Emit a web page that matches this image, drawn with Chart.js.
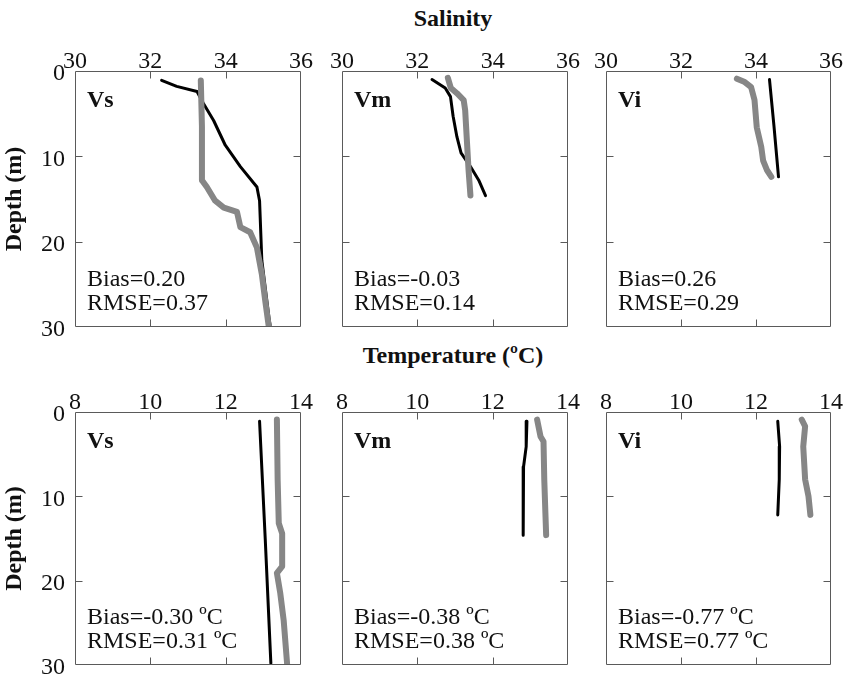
<!DOCTYPE html>
<html>
<head>
<meta charset="utf-8">
<script src="https://cdn.jsdelivr.net/npm/chart.js@4.4.0/dist/chart.umd.min.js"></script>
<style>
  body { margin: 0; background: #fff; }
  #wrap { position: relative; width: 848px; height: 678px; font-family: "Liberation Serif", "Times New Roman", serif; }
  #wrap canvas { position: absolute; left: 0; top: 0; }
  .rowTitle { position: absolute; left: 253px; width: 400px; text-align: center; font-weight: bold; font-size: 24px; line-height: 28px; color: #111; }
</style>
</head>
<body>
<div id="wrap">
  <div class="rowTitle" style="top:4px">Salinity</div>
  <div class="rowTitle" style="top:341px">Temperature (ºC)</div>
</div>
<script>
// stations and stats
const stations = ["Vs", "Vm", "Vi"];
const salBias = ["0.20", "-0.03", "0.26"];
const salRmse = ["0.37", "0.14", "0.29"];
const tempBias = ["-0.30", "-0.38", "-0.77"];
const tempRmse = ["0.31", "0.38", "0.77"];

const salTicks = [30, 32, 34, 36];
const tempTicks = [8, 10, 12, 14];
const depthTicks = [0, 10, 20, 30];

// salinity profiles (model = black, obs = gray)
const salVsModelDepth = [1.1, 1.8, 2.4, 3.8, 5.8, 8.7, 11.2, 13.6, 15.2, 22.2, 25.4, 28.9, 29.8];
const salVsModel = [32.30, 32.70, 33.24, 33.41, 33.68, 33.99, 34.39, 34.83, 34.90, 34.96, 35.05, 35.15, 35.18];
const salVsObsDepth = [1.1, 6.5, 12.8, 13.6, 15.2, 16.0, 16.5, 18.3, 18.9, 20.7, 23.8, 26.9, 29.8];
const salVsObs = [33.34, 33.37, 33.37, 33.50, 33.72, 33.95, 34.30, 34.39, 34.65, 34.83, 34.96, 35.05, 35.14];

const salVmModelDepth = [1.0, 2.0, 3.0, 5.3, 7.7, 9.6, 11.2, 12.8, 14.6];
const salVmModel = [32.39, 32.74, 32.88, 32.95, 33.05, 33.16, 33.41, 33.63, 33.81];
const salVmObsDepth = [0.8, 2.0, 2.6, 3.4, 4.6, 8.5, 11.6, 14.6];
const salVmObs = [32.81, 32.89, 33.05, 33.23, 33.27, 33.32, 33.36, 33.41];

const salViModelDepth = [1.0, 6.5, 12.4];
const salViModel = [34.36, 34.48, 34.60];
const salViObsDepth = [0.9, 1.3, 1.9, 3.4, 6.6, 8.9, 10.5, 11.6, 12.4];
const salViObs = [33.49, 33.70, 33.87, 33.96, 34.02, 34.14, 34.19, 34.29, 34.41];

// temperature profiles
const tempVsModelDepth = [1.1, 15.0, 29.8];
const tempVsModel = [12.90, 13.05, 13.20];
const tempVsObsDepth = [0.9, 8.0, 13.2, 14.4, 18.3, 19.1, 21.5, 24.7, 29.8];
const tempVsObs = [13.36, 13.38, 13.41, 13.50, 13.50, 13.36, 13.45, 13.54, 13.63];

const tempVmModelDepth = [1.1, 4.1, 6.5, 10.0, 14.6];
const tempVmModel = [12.91, 12.89, 12.82, 12.81, 12.81];
const tempVmObsDepth = [0.9, 2.9, 3.5, 8.0, 12.0, 14.6];
const tempVmObs = [13.18, 13.27, 13.35, 13.37, 13.40, 13.42];

const tempViModelDepth = [1.1, 4.1, 8.0, 12.2];
const tempViModel = [12.58, 12.63, 12.62, 12.58];
const tempViObsDepth = [0.9, 1.7, 4.1, 8.0, 10.0, 12.2];
const tempViObs = [13.22, 13.31, 13.26, 13.31, 13.40, 13.45];

const colLeft = [75, 342, 606];
const colRight = [301, 568, 831];
const rowTop = [71, 412];
const rowBottom = [327, 665];

const FONT = "'Liberation Serif', 'Times New Roman', serif";
const W = 848, H = 678;

function pts(xs, ds) {
  return xs.map((v, i) => ({ x: v, y: ds[i] }));
}

const panelDecor = {
  id: "panelDecor",
  afterDraw(chart, args, o) {
    const { ctx, chartArea: a } = chart;
    const x = chart.scales.x, y = chart.scales.y;
    const L = Math.round(a.left) + 0.5, R = Math.round(a.right) - 0.5;
    const T = Math.round(a.top) + 0.5, B = Math.round(a.bottom) - 0.5;
    ctx.save();
    ctx.strokeStyle = "#5a5a5a";
    ctx.lineWidth = 1;
    ctx.beginPath();
    ctx.rect(L, T, R - L, B - T);
    // inward ticks on all sides
    x.ticks.forEach(t => {
      const px = Math.round(x.getPixelForValue(t.value)) + 0.5;
      if (px <= L + 1 || px >= R - 1) return;
      ctx.moveTo(px, T); ctx.lineTo(px, T + 7);
      ctx.moveTo(px, B); ctx.lineTo(px, B - 7);
    });
    y.ticks.forEach(t => {
      const py = Math.round(y.getPixelForValue(t.value)) + 0.5;
      if (py <= T + 1 || py >= B - 1) return;
      ctx.moveTo(L, py); ctx.lineTo(L + 7, py);
      ctx.moveTo(R, py); ctx.lineTo(R - 7, py);
    });
    ctx.stroke();

    ctx.fillStyle = "#111";
    ctx.textBaseline = "alphabetic";
    ctx.textAlign = "left";
    ctx.font = "bold 24px " + FONT;
    ctx.fillText(o.name, a.left + 12, a.top + 36);
    ctx.font = "24px " + FONT;
    ctx.fillText(o.bias, a.left + 12, a.bottom - 41);
    ctx.fillText(o.rmse, a.left + 12, a.bottom - 17);
    ctx.restore();
  }
};

function makePanel(row, col, modelX, modelD, obsX, obsD, xTicks, bias, rmse) {
  const canvas = document.createElement("canvas");
  canvas.width = W;
  canvas.height = H;
  document.getElementById("wrap").appendChild(canvas);

  const yW = col === 0 ? 75 : 10;
  const xH = 40;
  const pad = {
    left: colLeft[col] - yW,
    top: rowTop[row] - xH,
    right: W - colRight[col],
    bottom: H - rowBottom[row]
  };

  return new Chart(canvas.getContext("2d"), {
    type: "scatter",
    data: {
      datasets: [
        {
          label: "Obs",
          data: pts(obsX, obsD),
          showLine: true,
          borderColor: "#868686",
          borderWidth: 6,
          borderCapStyle: "round",
          borderJoinStyle: "round",
          pointRadius: 0,
          tension: 0,
          order: 0
        },
        {
          label: "Model",
          data: pts(modelX, modelD),
          showLine: true,
          borderColor: "#000",
          borderWidth: 3,
          borderCapStyle: "round",
          borderJoinStyle: "round",
          pointRadius: 0,
          tension: 0,
          order: 1
        }
      ]
    },
    options: {
      responsive: false,
      animation: false,
      devicePixelRatio: 1,
      layout: { padding: pad },
      plugins: {
        legend: { display: false },
        tooltip: { enabled: false },
        panelDecor: {
          name: stations[col],
          bias: "Bias=" + bias,
          rmse: "RMSE=" + rmse
        }
      },
      scales: {
        x: {
          type: "linear",
          position: "top",
          min: xTicks[0],
          max: xTicks[xTicks.length - 1],
          afterBuildTicks: s => { s.ticks = xTicks.map(v => ({ value: v })); },
          afterFit: s => { s.height = xH; s.paddingLeft = 0; s.paddingRight = 0; },
          grid: { display: false, drawTicks: false },
          border: { display: false },
          ticks: {
            color: "#111",
            padding: -5,
            maxRotation: 0,
            font: { family: FONT, size: 24 }
          }
        },
        y: {
          type: "linear",
          reverse: true,
          min: 0,
          max: 30,
          afterBuildTicks: s => { s.ticks = depthTicks.map(v => ({ value: v })); },
          afterFit: s => { s.width = yW; s.paddingTop = 0; s.paddingBottom = 0; },
          grid: { display: false, drawTicks: false },
          border: { display: false },
          title: {
            display: col === 0,
            text: "Depth (m)",
            color: "#111",
            padding: 0,
            font: { family: FONT, size: 24, weight: "bold" }
          },
          ticks: {
            display: col === 0,
            color: "#111",
            padding: 10,
            labelOffset: 3,
            font: { family: FONT, size: 24 }
          }
        }
      }
    },
    plugins: [panelDecor]
  });
}

const salModel = [salVsModel, salVmModel, salViModel];
const salModelDepth = [salVsModelDepth, salVmModelDepth, salViModelDepth];
const salObs = [salVsObs, salVmObs, salViObs];
const salObsDepth = [salVsObsDepth, salVmObsDepth, salViObsDepth];
const tempModel = [tempVsModel, tempVmModel, tempViModel];
const tempModelDepth = [tempVsModelDepth, tempVmModelDepth, tempViModelDepth];
const tempObs = [tempVsObs, tempVmObs, tempViObs];
const tempObsDepth = [tempVsObsDepth, tempVmObsDepth, tempViObsDepth];

for (let c = 0; c < 3; c++) {
  makePanel(0, c, salModel[c], salModelDepth[c], salObs[c], salObsDepth[c], salTicks, salBias[c], salRmse[c]);
  makePanel(1, c, tempModel[c], tempModelDepth[c], tempObs[c], tempObsDepth[c], tempTicks, tempBias[c] + " ºC", tempRmse[c] + " ºC");
}
</script>
</body>
</html>
